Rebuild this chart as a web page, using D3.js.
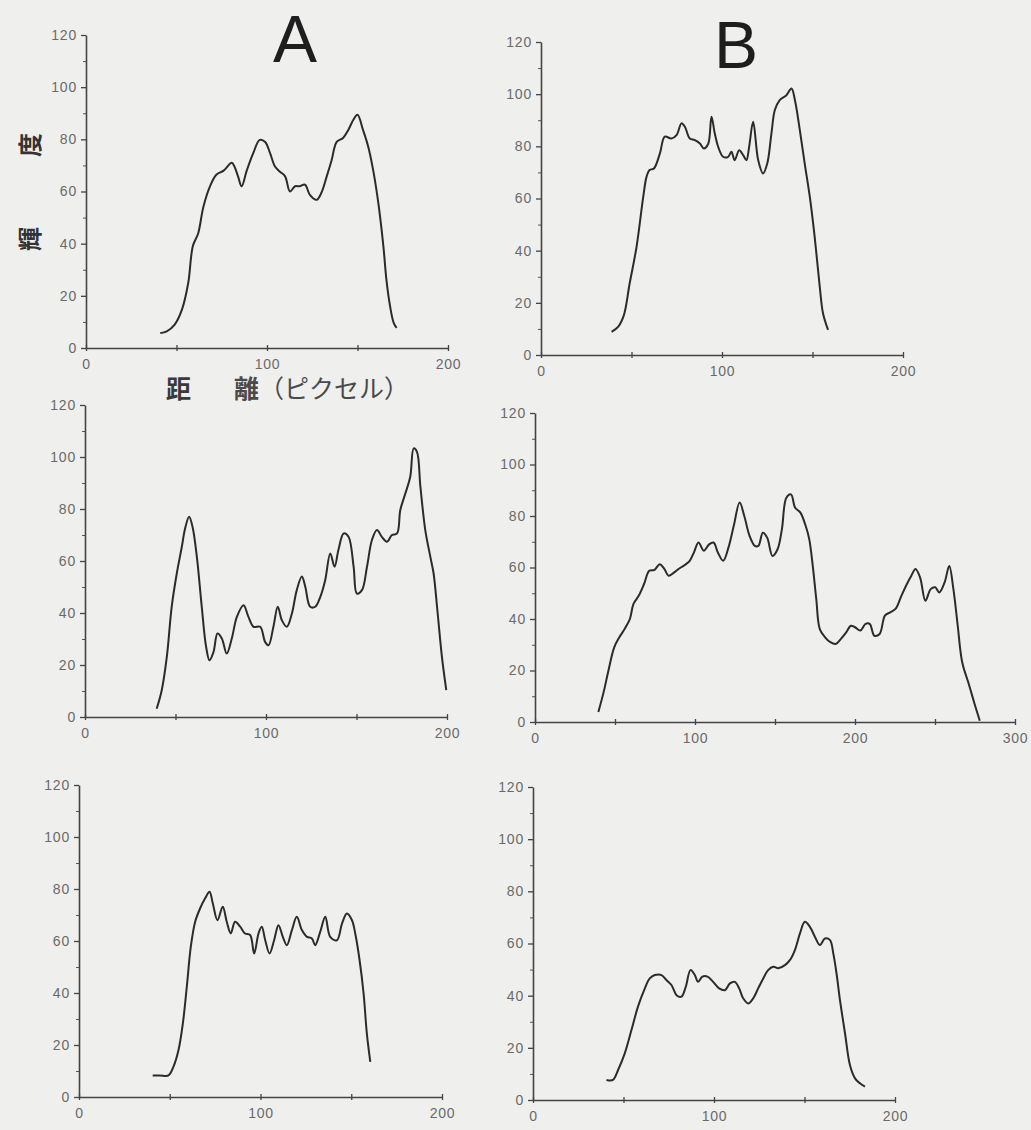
<!DOCTYPE html>
<html>
<head>
<meta charset="utf-8">
<script src="https://cdn.jsdelivr.net/npm/d3@7"></script>
<style>
  body { margin: 0; background: #efefed; }
  svg { display: block; }
</style>
</head>
<body>
<div id="chart"></div>
<script>
// Luminance profiles (distance in pixels, luminance)

// A, top
const a1Dist = [41, 44.6, 49, 53, 56.5, 59, 62, 64.8, 68.5, 72, 76, 80.5, 82, 84, 86, 88.8, 92.4, 96, 99, 101.7, 104.4, 107, 110, 112.7, 115.5, 118, 121, 123.7, 127.4, 130, 133, 135.7, 138.5, 142, 145, 147.7, 150, 153, 156, 158.7, 161.5, 164.3, 166, 168, 170, 171.6];
const a1Lum = [5.7, 6.4, 9, 14.7, 25, 39, 44, 54, 62, 66.4, 68, 71, 69.6, 65.8, 62, 68, 74.7, 79.8, 79, 74.7, 69.6, 67.7, 65.8, 60, 62, 62, 62.6, 58.7, 56.8, 59.4, 65.8, 72, 79, 80.5, 83.7, 87.5, 89.4, 83.7, 77, 68, 55.6, 39, 26, 16, 9.6, 7.7];

// B, top
const b1Dist = [39, 42.7, 45.8, 49, 52.8, 56.5, 58.3, 60, 62.4, 65.7, 68.4, 72, 74.9, 77.6, 79.5, 82.2, 85, 87.8, 90, 92.4, 94.2, 96, 97.9, 100.6, 103.4, 105.2, 107, 109.5, 111.7, 113.5, 115, 117.2, 120, 122.7, 125, 127.3, 129.2, 131.9, 135.6, 138.4, 140.3, 143, 145.7, 148.5, 151.2, 154, 155.8, 158.6];
const b1Lum = [8.9, 10.9, 15.3, 27.5, 41.5, 60.7, 68.3, 70.9, 71.5, 77.3, 83.7, 83, 84.3, 88.8, 87.5, 83, 82.4, 81.1, 79.2, 81, 91.3, 85, 79.8, 76, 76, 77.9, 74.7, 78.5, 76.6, 74.7, 79.8, 89.4, 74.7, 69.6, 73.4, 84.9, 93.9, 97.7, 99.6, 102.2, 97.7, 86.2, 73.4, 60.7, 45.3, 26.2, 16, 9.6];

// A, middle
const a2Dist = [39.6, 42.4, 45.2, 47.9, 50.7, 53.5, 55.3, 57.5, 59.4, 61.8, 64.5, 66.9, 68.8, 71, 73.2, 75.6, 78.3, 81.1, 83.9, 87.6, 90.3, 93.1, 96.8, 99.5, 101.4, 104.1, 106.5, 108.8, 111.5, 114.3, 117, 119.8, 121.7, 124.4, 127.2, 130, 132.7, 135.5, 137.9, 140, 142.9, 145.6, 148.4, 150.2, 153, 155.8, 158.5, 161.3, 164, 166.8, 169.6, 172.4, 174.2, 177, 179.7, 181.6, 183.4, 185.3, 188, 190.8, 192.6, 194.5, 197.2, 199.6];
const a2Lum = [3.2, 10.3, 23.1, 42.4, 55.2, 65.5, 72.5, 77, 73.2, 61.6, 42.4, 27, 21.8, 25, 32.1, 30.2, 24.4, 30.2, 38.5, 43, 38.5, 34.7, 34.7, 28.9, 27.6, 34.7, 42.4, 37.2, 34.7, 39.8, 48.8, 54, 50.1, 42.4, 42.4, 46.2, 52.6, 62.9, 57.8, 64.2, 70.6, 69.3, 57.8, 47.5, 48.8, 57.8, 68, 71.9, 69.3, 67.4, 70, 70.6, 79.6, 86, 92.4, 103.3, 102, 88.6, 71.9, 61.6, 55.2, 42.4, 23.1, 10.3];

// B, middle
const b2Dist = [39.6, 42.9, 45.7, 49.5, 52.7, 56, 59.3, 61.5, 64.8, 68.1, 71.4, 74.7, 78, 80.9, 83.5, 86.8, 89.7, 93.4, 96.7, 99.3, 102.2, 105.5, 108.8, 111.6, 114.3, 117.6, 120.9, 124.2, 127.9, 130.8, 134.1, 137.4, 139.6, 142.4, 145.1, 148.4, 151.6, 154.3, 157.1, 160, 162.6, 165.9, 169.2, 171.4, 173.6, 175.8, 178, 181.3, 184.6, 187.9, 191.2, 194.5, 197.4, 200, 203.3, 206.6, 209.2, 212.1, 215.4, 218.7, 222, 225.3, 228.6, 231.9, 235.2, 237.8, 240.7, 244, 247.3, 250.1, 252.7, 256, 258.9, 261.5, 264.2, 267, 271.4, 274.7, 278];
const b2Lum = [3.9, 11.6, 19.4, 29, 32.9, 36.1, 40, 45.8, 49, 53.5, 58.7, 59.1, 61.3, 59.4, 56.8, 58, 59.4, 60.9, 62.6, 65.8, 69.7, 66.5, 69, 69.7, 65.8, 62.6, 67.7, 76.1, 85.2, 80, 72.3, 68.4, 68.4, 73.5, 71.6, 64.5, 67.1, 74.8, 87.1, 88.4, 83.2, 81.3, 76.1, 71, 60.6, 47.7, 36.1, 32.9, 31, 30.3, 32.3, 34.8, 37.4, 36.8, 35.5, 38.1, 38.1, 33.5, 34.2, 41.3, 42.6, 43.9, 48.4, 52.9, 56.8, 59.4, 56.1, 47.1, 51.6, 52.3, 50.3, 54.2, 60.6, 51.6, 37.4, 23.2, 14.2, 7.1, 0.5];

// A, bottom
const a3Dist = [40.6, 44.7, 49.3, 52, 54.8, 57.2, 59.4, 61.6, 64, 66.7, 69.5, 71.9, 73.7, 76.3, 79.2, 81.4, 83.6, 86, 88.8, 91.5, 94.3, 96.5, 98.9, 100.7, 102.6, 105, 107.5, 109.9, 112.3, 114.5, 117.3, 120, 122.8, 125.6, 128.3, 130.1, 132.9, 135.7, 138.4, 142.1, 144.9, 147.6, 150.4, 152.2, 154.6, 156.8, 158.6, 160.5];
const a3Lum = [8.3, 8.3, 8.3, 11.6, 18, 28.2, 42.4, 57.8, 67.4, 72.5, 76.4, 78.9, 74.5, 68, 73.2, 67.4, 62.9, 67.4, 65.5, 62.9, 62.3, 55.2, 62.9, 65.5, 60.3, 55.2, 60.3, 66.1, 61.6, 58.4, 64.2, 69.3, 64.2, 61.6, 61, 58.4, 63.5, 69.3, 61.6, 60.3, 66.7, 70.6, 68, 62.9, 52.6, 39.8, 24.4, 13.5];

// B, bottom
const b3Dist = [40.6, 44.2, 47, 50.7, 54.4, 58, 61.8, 64.5, 67.3, 71, 73.7, 76.5, 79.3, 82, 84.4, 87, 89.4, 91.2, 93.6, 96.4, 99.5, 102.8, 106, 108.8, 111.5, 113.9, 116.1, 118.9, 121.7, 124.4, 127.2, 129.9, 132.7, 135.5, 139.2, 141.9, 144.7, 147.5, 150.2, 153, 155.8, 158.5, 161.3, 164.1, 165.9, 167.7, 169.6, 172.4, 175.1, 177.9, 180.6, 183.4];
const b3Lum = [7.7, 7.7, 11.5, 17.9, 26.8, 35.8, 42.8, 46.6, 47.9, 47.9, 46, 44.1, 40.2, 39.6, 43.4, 49.8, 47.9, 45.3, 47.3, 47.3, 45.3, 42.8, 42.1, 44.7, 45.3, 42.8, 39, 37, 39, 42.8, 46.6, 49.8, 51.1, 50.5, 51.7, 53.6, 57.5, 63.9, 68.3, 66.4, 62.5, 59.4, 61.9, 61.3, 56.2, 48.5, 38.3, 25.5, 13.4, 8.3, 6.4, 5.1];

// axis ticks
const yTicks = [0, 20, 40, 60, 80, 100, 120];
const yMinorTicks = [10, 30, 50, 70, 90, 110];
const xTicks200 = [0, 50, 100, 150, 200];
const xTicks300 = [0, 50, 100, 150, 200, 250, 300];

// where each plot sits on the page
const panels = [
  { dist: a1Dist, lum: a1Lum, xTicks: xTicks200, left: 86, right: 448, bottom: 348, top: 35 },
  { dist: b1Dist, lum: b1Lum, xTicks: xTicks200, left: 541, right: 903, bottom: 355, top: 42 },
  { dist: a2Dist, lum: a2Lum, xTicks: xTicks200, left: 85, right: 447, bottom: 717, top: 405 },
  { dist: b2Dist, lum: b2Lum, xTicks: xTicks300, left: 535, right: 1015, bottom: 722, top: 413 },
  { dist: a3Dist, lum: a3Lum, xTicks: xTicks200, left: 79, right: 442, bottom: 1097, top: 785 },
  { dist: b3Dist, lum: b3Lum, xTicks: xTicks200, left: 533, right: 895, bottom: 1100, top: 787 },
];

const ink = "#2b2b2b";
const labelInk = "#6a6a6a";

const svg = d3
  .select("#chart")
  .append("svg")
  .attr("width", 1031)
  .attr("height", 1130);

svg.append("rect").attr("width", 1031).attr("height", 1130).attr("fill", "#efefed");

panels.forEach((p) => {
  const xMax = p.xTicks[p.xTicks.length - 1];
  const x = d3.scaleLinear().domain([0, xMax]).range([p.left, p.right]);
  const y = d3.scaleLinear().domain([0, 120]).range([p.bottom, p.top]);

  // minor y ticks
  svg
    .append("g")
    .attr("transform", `translate(${p.left},0)`)
    .call(d3.axisLeft(y).tickValues(yMinorTicks).tickSize(3).tickSizeOuter(0).tickFormat(""))
    .call((g) => g.select(".domain").remove())
    .selectAll("line")
    .attr("stroke", "#555");

  // major y ticks + axis line
  const yAxis = svg
    .append("g")
    .attr("transform", `translate(${p.left},0)`)
    .call(d3.axisLeft(y).tickValues(yTicks).tickSize(5).tickSizeOuter(0).tickPadding(4));
  yAxis.select(".domain").attr("stroke", "#444").attr("stroke-width", 1.6);
  yAxis.selectAll(".tick line").attr("stroke", "#444").attr("stroke-width", 1.3);
  yAxis
    .selectAll(".tick text")
    .attr("fill", labelInk)
    .style("font-family", "Liberation Sans, Arial, sans-serif")
    .style("font-size", "14px")
    .style("letter-spacing", "0.8px");

  // x axis
  const xAxis = svg
    .append("g")
    .attr("transform", `translate(0,${p.bottom})`)
    .call(
      d3
        .axisBottom(x)
        .tickValues(p.xTicks)
        .tickSize(3)
        .tickSizeOuter(0)
        .tickPadding(8)
        .tickFormat((d) => (d % 100 === 0 ? d : ""))
    );
  xAxis.select(".domain").attr("stroke", "#444").attr("stroke-width", 1.6);
  xAxis.selectAll(".tick line").attr("y1", -3).attr("y2", 3).attr("stroke", "#444").attr("stroke-width", 1.3);
  xAxis
    .selectAll(".tick text")
    .attr("fill", labelInk)
    .style("font-family", "Liberation Sans, Arial, sans-serif")
    .style("font-size", "14px")
    .style("letter-spacing", "0.8px");

  // the profile itself
  const line = d3
    .line()
    .x((d, i) => x(p.dist[i]))
    .y((d) => y(d))
    .curve(d3.curveCatmullRom.alpha(0.5));

  svg
    .append("path")
    .datum(p.lum)
    .attr("fill", "none")
    .attr("stroke", ink)
    .attr("stroke-width", 2)
    .attr("stroke-linejoin", "round")
    .attr("d", line);
});

// column titles
svg
  .append("text")
  .attr("x", 295)
  .attr("y", 62)
  .attr("text-anchor", "middle")
  .style("font-family", "Liberation Sans, Arial, sans-serif")
  .style("font-size", "66px")
  .attr("fill", "#1e1e1e")
  .text("A");

svg
  .append("text")
  .attr("x", 736)
  .attr("y", 68)
  .attr("text-anchor", "middle")
  .style("font-family", "Liberation Sans, Arial, sans-serif")
  .style("font-size", "66px")
  .attr("fill", "#1e1e1e")
  .text("B");

// y axis title (vertical)
const yTitle = svg
  .append("text")
  .attr("transform", "translate(39,192) rotate(-90)")
  .attr("text-anchor", "middle")
  .style("font-family", "Noto Sans CJK JP, sans-serif")
  .style("font-size", "24px")
  .style("font-weight", "bold")
  .attr("fill", "#333");
yTitle.append("tspan").text("輝");
yTitle.append("tspan").attr("dx", 70).text("度");

// x axis title
svg
  .append("text")
  .attr("x", 166)
  .attr("y", 398)
  .style("font-family", "Noto Sans CJK JP, sans-serif")
  .style("font-size", "25px")
  .style("font-weight", "bold")
  .attr("fill", "#3a3a3a")
  .text("距");

const xTitle = svg
  .append("text")
  .attr("x", 234)
  .attr("y", 398)
  .style("font-family", "Noto Sans CJK JP, sans-serif")
  .style("font-size", "25px")
  .attr("fill", "#4a4a4a");
xTitle.append("tspan").style("font-weight", "bold").text("離");
xTitle.append("tspan").text("（ピクセル）");
</script>
</body>
</html>
